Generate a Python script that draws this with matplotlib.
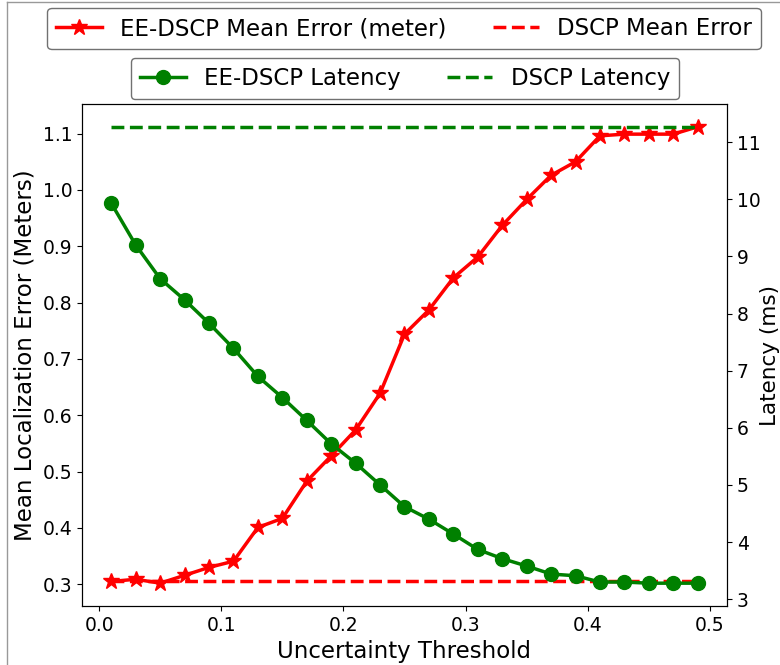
import matplotlib
matplotlib.use("Agg")
from matplotlib import pyplot as plt
from matplotlib.lines import Line2D

# uncertainty thresholds
thresholds = [0.01, 0.03, 0.05, 0.07, 0.09, 0.11, 0.13, 0.15, 0.17, 0.19,
              0.21, 0.23, 0.25, 0.27, 0.29, 0.31, 0.33, 0.35, 0.37, 0.39,
              0.41, 0.43, 0.45, 0.47, 0.49]

# EE-DSCP mean localization error (meters)
ee_error = [0.305, 0.309, 0.302, 0.316, 0.330, 0.341, 0.401, 0.417, 0.483, 0.528,
            0.574, 0.639, 0.744, 0.787, 0.844, 0.881, 0.937, 0.983, 1.026, 1.050,
            1.096, 1.099, 1.099, 1.099, 1.112]
dscp_error = 0.305

# EE-DSCP latency (ms)
ee_latency = [9.93, 9.20, 8.61, 8.24, 7.83, 7.39, 6.90, 6.53, 6.13, 5.72,
              5.38, 5.00, 4.62, 4.40, 4.14, 3.87, 3.71, 3.58, 3.44, 3.41,
              3.30, 3.30, 3.28, 3.28, 3.28]
dscp_latency = 11.27

W, H = 780, 665
fig = plt.figure(figsize=(W / 100, H / 100), dpi=100)
ax = fig.add_axes([82 / W, 1 - 606 / H, 645 / W, 502 / H])
bx = ax.twinx()

ax.plot(thresholds, ee_error, color="r", marker="*", markersize=12, lw=2.5,
        label="EE-DSCP Mean Error (meter)")
ax.plot(thresholds, [dscp_error] * len(thresholds), color="r", ls="--", lw=2.5,
        label="DSCP Mean Error")

bx.plot(thresholds, ee_latency, color="g", marker="o", markersize=10, lw=2.5,
        label="EE-DSCP Latency")
bx.plot(thresholds, [dscp_latency] * len(thresholds), color="g", ls="--", lw=2.5,
        label="DSCP Latency")

ax.set_xlabel("Uncertainty Threshold", fontsize=16.5)
ax.set_ylabel("Mean Localization Error (Meters)", fontsize=16.5)
bx.set_ylabel("Latency (ms)", fontsize=15.5, labelpad=0)
ax.tick_params(labelsize=13.5)
bx.tick_params(labelsize=13.5)
ax.set_xticks([0.0, 0.1, 0.2, 0.3, 0.4, 0.5])
bx.set_yticks(range(3, 12))

l1 = ax.legend(loc="center", ncol=2, fontsize=16.5, bbox_to_anchor=(404 / W, 1 - 28.5 / H),
               bbox_transform=fig.transFigure, edgecolor="0.3", fancybox=True)
l2 = bx.legend(loc="center", ncol=2, fontsize=16.5, bbox_to_anchor=(405 / W, 1 - 78.5 / H),
               bbox_transform=fig.transFigure, edgecolor="0.3", fancybox=True)

# screenshot border (top and left edges only)
fig.add_artist(Line2D([7 / W, 1], [1 - 2 / H, 1 - 2 / H], transform=fig.transFigure,
                      color="0.6", lw=1))
fig.add_artist(Line2D([7 / W, 7 / W], [0, 1 - 2 / H], transform=fig.transFigure,
                      color="0.6", lw=1))

fig.savefig("out.png", dpi=100)
